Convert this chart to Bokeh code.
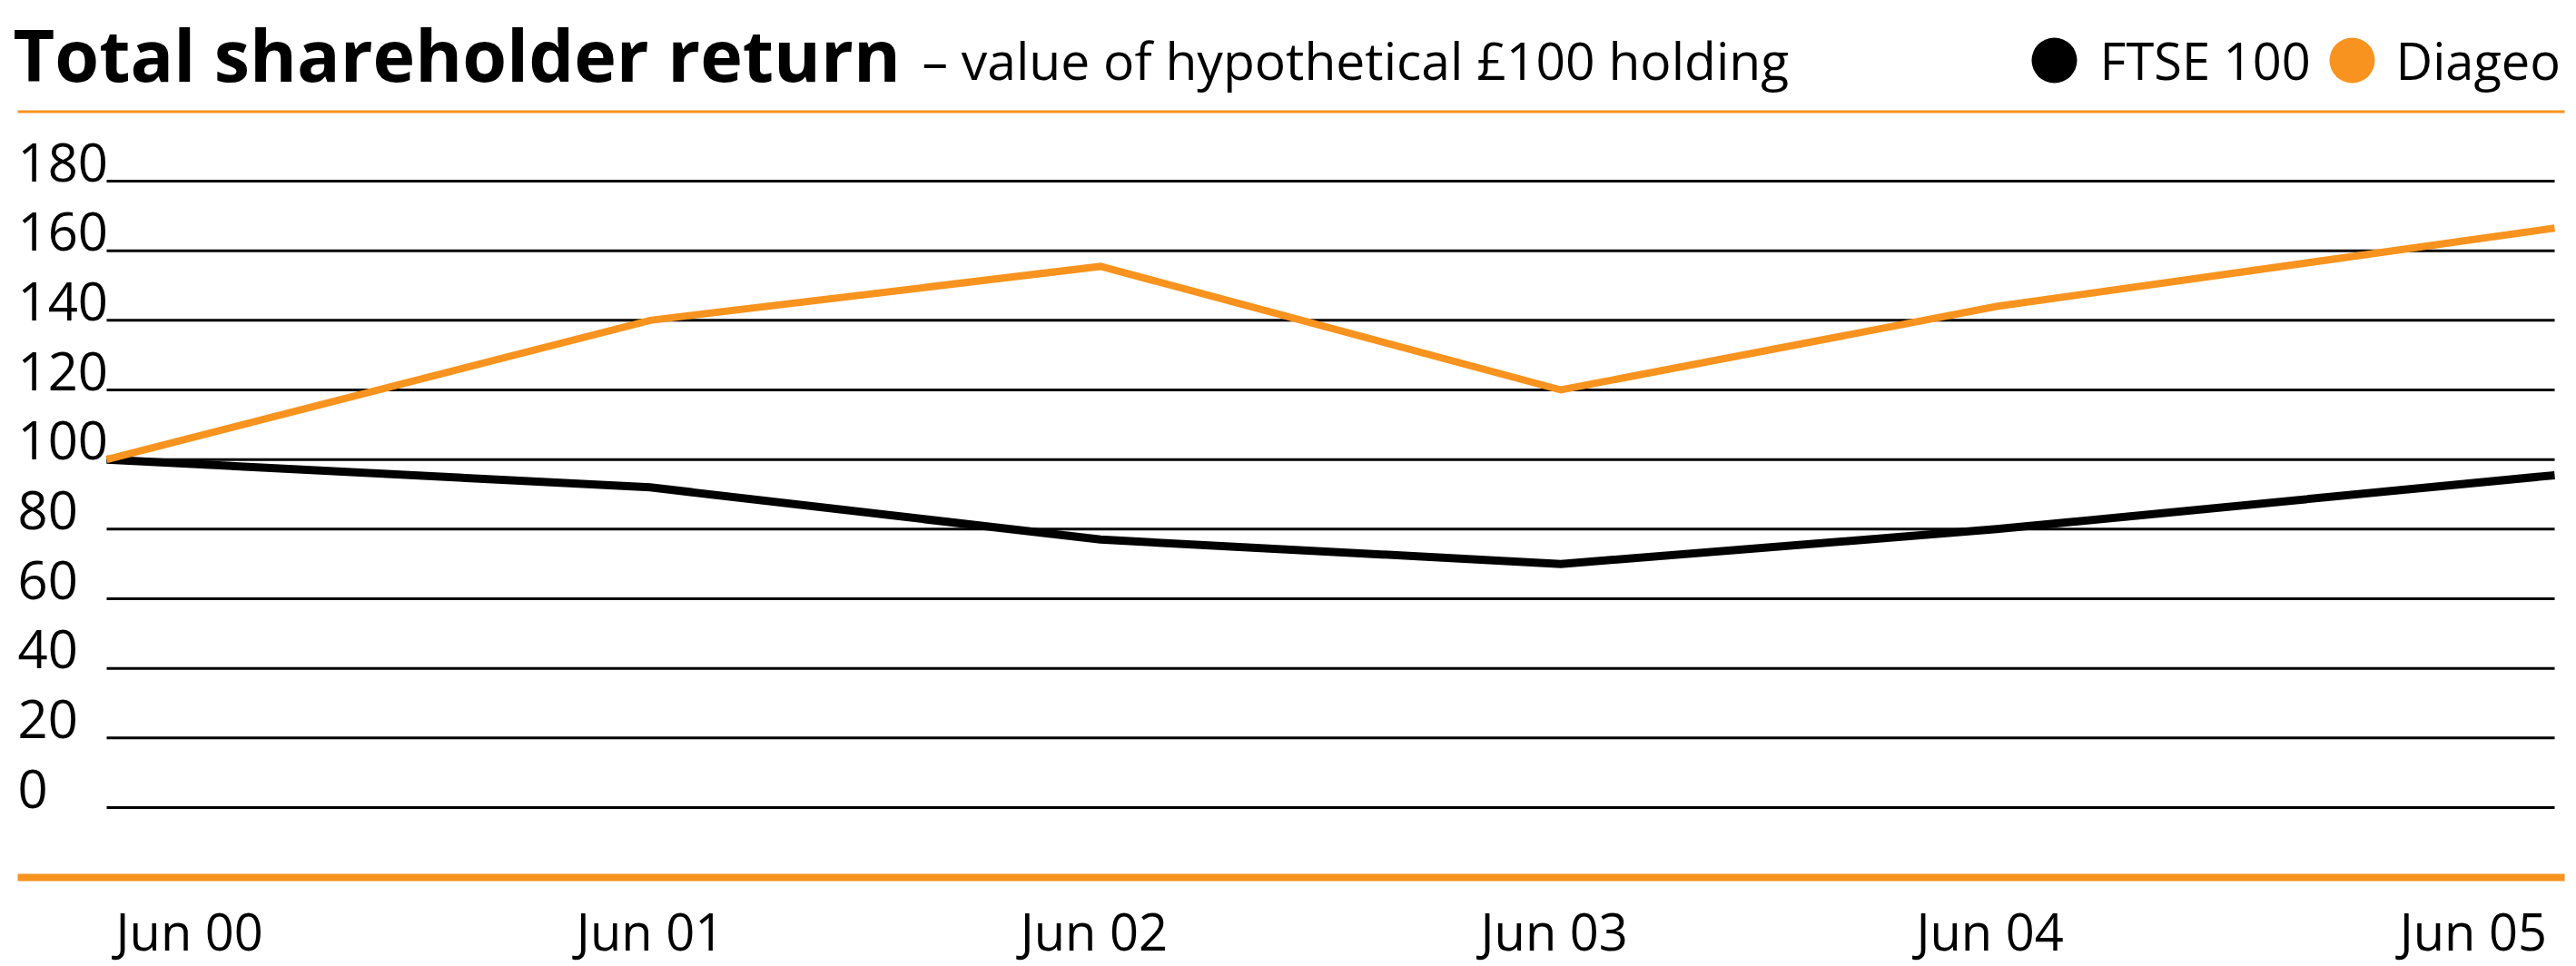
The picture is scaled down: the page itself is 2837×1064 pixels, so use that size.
from bokeh.plotting import figure
from bokeh.models import Range1d, Label, BoxAnnotation
from bokeh.embed import file_html
from bokeh.resources import INLINE

# ---------------- data ----------------
periods = ["Jun 00", "Jun 01", "Jun  02", "Jun  03", "Jun  04", "Jun  05"]
period_pos = [0.0, 1.11, 2.03, 2.97, 3.86, 5.0]
ftse = [100, 92, 77, 70, 80, 95.5]
diageo = [100, 140, 155.5, 120, 144, 166.5]
y_ticks = [0, 20, 40, 60, 80, 100, 120, 140, 160, 180]
series_names = ["FTSE 100", "Diageo"]
title_text = "Total shareholder return"
subtitle_text = "\u2013 value of hypothetical \u00a3100 holding"

# ---------------- style ----------------
ORANGE = "#F7931E"
BLACK = "#000000"
FONT = "Open Sans"
series_colors = [BLACK, ORANGE]
BASE_SHIFT = 0.36   # baseline correction (fraction of font size)

W, H = 2829, 1064
X_LEFT, X_RIGHT = 117, 2813     # canvas px of first / last period
Y_ZERO, Y_TOP = 889, 199        # canvas px (from top) of 0 / 180

xs = (X_RIGHT - X_LEFT) / (period_pos[-1] - period_pos[0])
ys = (Y_ZERO - Y_TOP) / (y_ticks[-1] - y_ticks[0])
x_range = Range1d(period_pos[0] - X_LEFT / xs, period_pos[-1] + (W - X_RIGHT) / xs)
y_range = Range1d(y_ticks[0] - (H - Y_ZERO) / ys, y_ticks[-1] + Y_TOP / ys)


def px_x(px):
    return x_range.start + px / xs


def px_y(top_px):
    return y_range.end - top_px / ys


def sy(top_px):
    return H - top_px


def text_label(x, baseline_px, text, size, x_units="screen", **kw):
    return Label(x=x, y=sy(baseline_px - BASE_SHIFT * size), x_units=x_units,
                 y_units="screen", text=text, text_font=FONT,
                 text_font_size=f"{size}px", text_color=BLACK,
                 text_baseline="alphabetic", **kw)


p = figure(width=W, height=H, x_range=x_range, y_range=y_range,
           output_backend="svg", toolbar_location=None,
           x_axis_location=None, y_axis_location=None,
           title_location=None, min_border=0)
p.outline_line_color = None
p.background_fill_color = "white"
p.border_fill_color = "white"
for g in p.grid:
    g.visible = False

# gridlines
p.segment(x0=[period_pos[0]] * len(y_ticks), x1=[period_pos[-1]] * len(y_ticks),
          y0=y_ticks, y1=y_ticks, line_color=BLACK, line_width=3)

# series lines
p.line(period_pos, ftse, line_color=BLACK, line_width=9, line_join="miter")
p.line(period_pos, diageo, line_color=ORANGE, line_width=8, line_join="miter")

# y tick labels (baseline on the gridline)
YL = 58
for t in y_ticks:
    p.add_layout(Label(x=19, y=t, x_units="screen", y_units="data", text=str(t),
                       y_offset=BASE_SHIFT * YL, text_font=FONT,
                       text_font_size=f"{YL}px", text_color=BLACK,
                       text_align="left", text_baseline="alphabetic"))

# x tick labels
n = len(periods)
for i, (lab, xp) in enumerate(zip(periods, period_pos)):
    if i == 0:
        align, off = "left", 10
    elif i == n - 1:
        align, off = "right", 6
    else:
        align, off = "center", 0
    p.add_layout(text_label(xp, 1045, lab, 56, x_units="data",
                            x_offset=off, text_align=align))

# orange rules
p.add_layout(BoxAnnotation(left=19, right=2824, bottom=sy(124), top=sy(121),
                           left_units="screen", right_units="screen",
                           bottom_units="screen", top_units="screen",
                           fill_color=ORANGE, fill_alpha=1, line_color=None))
p.add_layout(BoxAnnotation(left=19, right=2824, bottom=sy(970), top=sy(962),
                           left_units="screen", right_units="screen",
                           bottom_units="screen", top_units="screen",
                           fill_color=ORANGE, fill_alpha=1, line_color=None))

# title and subtitle
p.add_layout(text_label(14, 87, title_text, 79, text_font_style="bold"))
p.add_layout(text_label(1015, 86, subtitle_text, 57))

# legend
legend_marker_px = [2262, 2590]
legend_text_px = [2312, 2638]
p.scatter(x=[px_x(v) for v in legend_marker_px], y=[px_y(66)] * 2, size=50,
          marker="circle", fill_color=series_colors, line_color=None)
for name, tx in zip(series_names, legend_text_px):
    p.add_layout(text_label(tx, 86, name, 56))

open("out.html", "w").write(file_html(p, INLINE))
